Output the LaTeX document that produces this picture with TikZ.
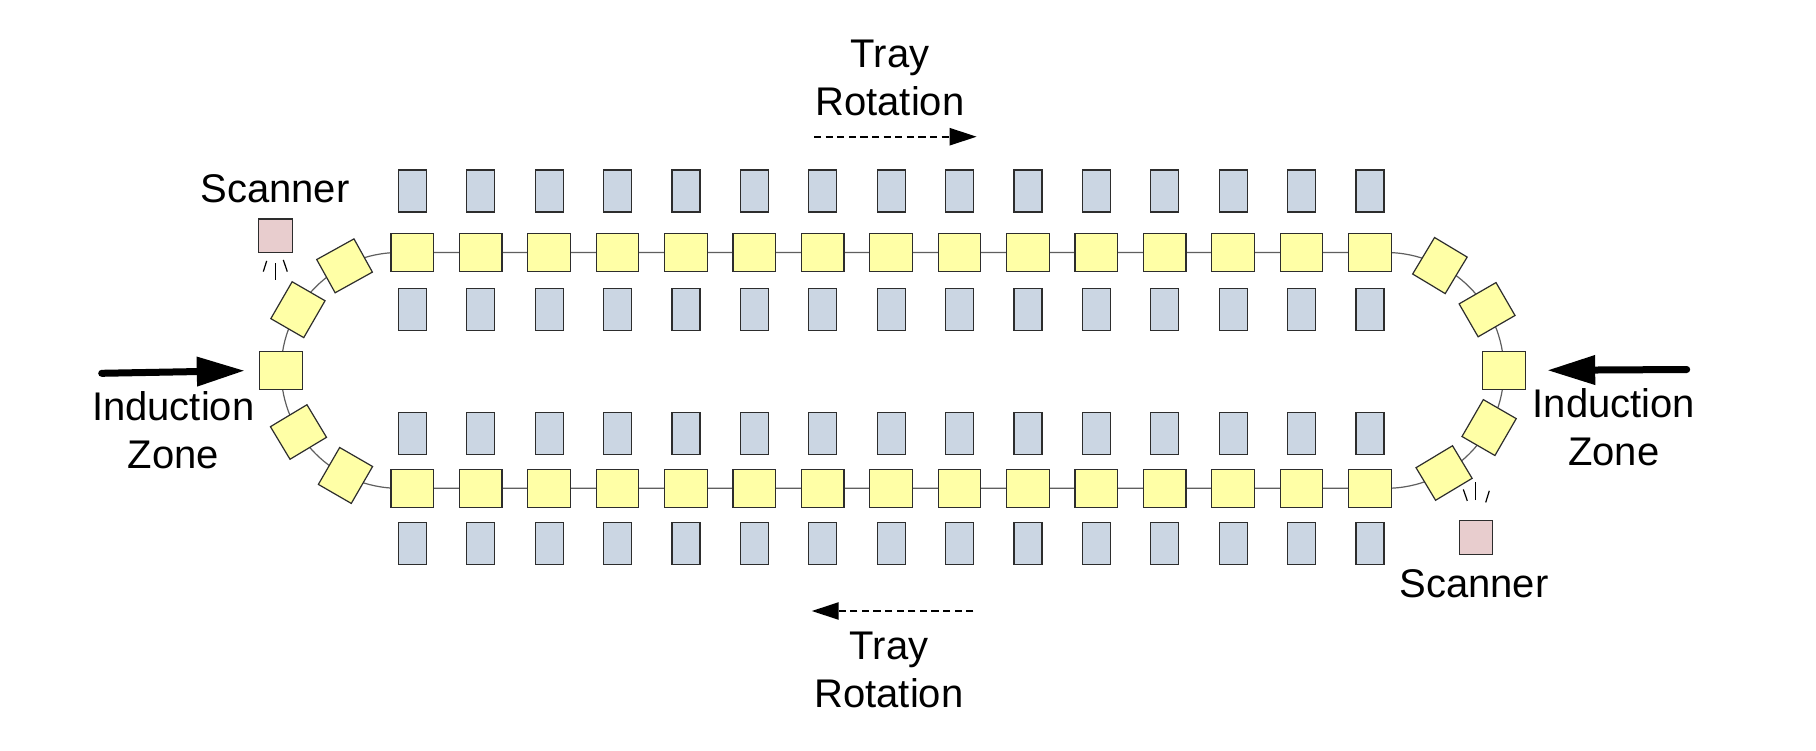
\documentclass[tikz,border=0pt]{standalone}
\usepackage{fontspec}
\setmainfont{Liberation Sans}
\usetikzlibrary{arrows.meta}
\definecolor{trayyel}{RGB}{255,255,166}
\definecolor{binblue}{RGB}{203,214,227}
\definecolor{scanpink}{RGB}{232,205,206}
\definecolor{edgegray}{RGB}{45,45,45}
\definecolor{trackgray}{RGB}{95,95,95}
\begin{document}
\begin{tikzpicture}[x=0.5pt,y=-0.5pt,
  tray/.style={draw=edgegray, fill=trayyel, line width=0.6pt, minimum width=21.3pt, minimum height=19pt, inner sep=0pt, outer sep=0pt},
  bin/.style={draw=edgegray, fill=binblue, line width=0.6pt, minimum width=14pt, minimum height=21pt, inner sep=0pt},
  scanbox/.style={draw=edgegray, fill=scanpink, line width=0.6pt, minimum size=16.7pt, inner sep=0pt, outer sep=0pt},
  lbl/.style={font=\fontsize{20}{24}\selectfont, align=center, inner sep=0pt, anchor=north},
  ray/.style={line width=0.6pt, black},
  track/.style={trackgray, line width=0.6pt},
  bigarrow/.style={line width=3.5pt, line cap=round, -{Triangle[length=24pt,width=14pt]}},
  rotarrow/.style={line width=1.2pt, dash pattern=on 3.6pt off 2.2pt, -{Triangle[length=13.5pt,width=8.5pt]}}]

\fill[white] (0,0) rectangle (1816,750);
\useasboundingbox (0,0) rectangle (1816,750);

% track
\draw[track, rounded corners=58.95pt] (281.1,252.5) rectangle (1503.9,488.3);

% straight rows
\foreach \i in {0,...,14} {
  \pgfmathsetmacro\xx{412.3+68.4*\i}
  \node[tray] (t\i) at (\xx,252.5) {};
  \node[bin] (ta\i) at (\xx,191) {};
  \node[bin] (tb\i) at (\xx,309.2) {};
  \node[tray] (b\i) at (\xx,488.3) {};
  \node[bin] (ba\i) at (\xx,433.3) {};
  \node[bin] (bb\i) at (\xx,543.3) {};
}

% left curve trays (angle / rotation / name)
\foreach \a/\r/\n in {117.5/29/la1, 149/60/la2, 180/0/la3, 211.5/31/la4, 243/60/la5} {
  \node[tray, rotate=\r] (\n) at ({399+117.9*cos(\a)},{370.4-117.9*sin(\a)}) {};
}
% right curve trays
\foreach \a/\r/\n in {62.8/59/ra1, 31/30/ra2, 0/0/ra3, -29/60/ra4, -60.5/31/ra5} {
  \node[tray, rotate=\r] (\n) at ({1386+117.9*cos(\a)},{370.4-117.9*sin(\a)}) {};
}

% scanners
\node[scanbox] (sc1) at (275.5,235.7) {};
\node[scanbox] (sc2) at (1476,537.5) {};
\draw[ray] (sc1.south) ++(-8.8,8.5) -- ++(-3.4,10.7);
\draw[ray] (sc1.south) ++(0.2,10.8) -- ++(0,16.7);
\draw[ray] (sc1.south) ++(7.8,7.5) -- ++(4,11.7);
\draw[ray] (sc2.north) ++(-8.7,-20) -- ++(-4,-11.4);
\draw[ray] (sc2.north) ++(-0.3,-20.7) -- ++(0,-18.3);
\draw[ray] (sc2.north) ++(9.7,-18.4) -- ++(3.6,-11.6);

% labels
\node[lbl] (scl1) at (275,174.5) {Scanner};
\node[lbl] (scl2) at (1474,569) {Scanner};
\node[lbl] (trt) at (890,39.5) {Tray\\Rotation};
\node[lbl] (trb) at (889,631.2) {Tray\\Rotation};
\node[lbl] (izl) at (173.3,391) {Induction\\Zone};
\node[lbl] (izr) at (1613.8,388) {Induction\\Zone};

% induction arrows
\coordinate (lin) at (101.7,373.3);
\coordinate (rin) at (1686.7,369.5);
\draw[bigarrow, shorten >=7.5pt] (lin) -- (la3.west);
\draw[bigarrow, shorten >=11pt] (rin) -- (ra3.east);

% rotation arrows
\coordinate (trs) at (814,136.7);
\coordinate (tre) at (976.7,136.7);
\coordinate (brs) at (973.3,611);
\coordinate (bre) at (811.7,611);
\draw[rotarrow] (trs) -- (tre);
\draw[rotarrow] (brs) -- (bre);
\end{tikzpicture}
\end{document}
